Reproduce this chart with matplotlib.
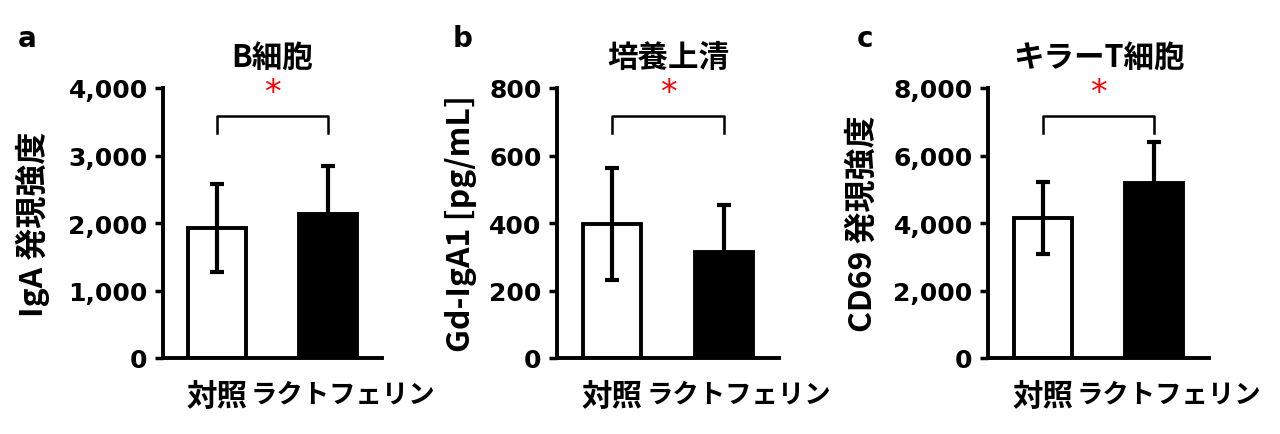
import matplotlib
matplotlib.use('Agg')
import matplotlib.pyplot as plt
import matplotlib.transforms as mtransforms
from matplotlib.ticker import FuncFormatter, MultipleLocator

# data
groups = ['対照', 'ラクトフェリン']
panel_letters = ['a', 'b', 'c']
titles = ['B細胞', '培養上清', 'キラーT細胞']
ylabels = ['IgA 発現強度', 'Gd-IgA1 [pg/mL]', 'CD69 発現強度']
ymax = [4000, 800, 8000]
ystep = [1000, 200, 2000]

bcell_mean = [1930, 2130]
bcell_err = [650, 710]
supernatant_mean = [397, 314]
supernatant_err = [167, 139]
killer_t_mean = [4150, 5185]
killer_t_err = [1070, 1215]

means = [bcell_mean, supernatant_mean, killer_t_mean]
errs = [bcell_err, supernatant_err, killer_t_err]

CJK = ['Noto Sans CJK JP', 'DejaVu Sans']
W, H = 1280, 435

fig = plt.figure(figsize=(W / 100, H / 100), dpi=100)

# axes boxes in pixels: left, width, ylabel centre x, panel letter x
layout = [(163, 219, 33, 18), (557, 222, 461, 453), (988, 221, 863, 857)]

for i, (left, width, ylab_x, letter_x) in enumerate(layout):
    ax = fig.add_axes([left / W, 76 / H, width / W, 270 / H])
    x = [0, 1]
    ax.bar(x, means[i], width=0.52, color=['white', 'black'], edgecolor='black',
           linewidth=2.8, zorder=2)
    ax.errorbar(x, means[i], yerr=errs[i], fmt='none', ecolor='black',
                elinewidth=3, capsize=5, capthick=3, zorder=3)

    ax.set_xlim(-0.49, 1.49)
    ax.set_ylim(0, ymax[i])
    ax.yaxis.set_major_locator(MultipleLocator(ystep[i]))
    ax.yaxis.set_major_formatter(FuncFormatter(lambda v, p: f'{int(v):,}'))

    for side in ['top', 'right']:
        ax.spines[side].set_visible(False)
    for side in ['left', 'bottom']:
        ax.spines[side].set_linewidth(2.8)

    ax.tick_params(axis='y', length=6, width=2.5, pad=5, labelsize=18)
    for lbl in ax.get_yticklabels():
        lbl.set_fontweight('bold')

    ax.set_xticks(x)
    ax.set_xticklabels(groups, family=CJK, fontweight='bold')
    ax.tick_params(axis='x', length=0, pad=16)
    xl = ax.get_xticklabels()
    xl[0].set_fontsize(22)
    xl[1].set_fontsize(19)
    xl[1].set_transform(xl[1].get_transform() +
                        mtransforms.ScaledTranslation(0.15, 0, fig.dpi_scale_trans))

    # significance bracket between the two bars
    top = ymax[i] * 0.895
    leg = ymax[i] * 0.06
    ax.plot([0, 0, 1, 1], [top - leg, top, top, top - leg], color='black',
            linewidth=1.8, clip_on=False, zorder=4)
    ax.text(0.5, ymax[i] * 0.985, '*', color='red', fontsize=24, ha='center',
            va='center', clip_on=False)

    ax.set_title(titles[i], family=CJK, fontsize=22, fontweight='bold', pad=16)
    ax.set_ylabel(ylabels[i], family=CJK, fontsize=23, fontweight='bold', va='center')
    ax.yaxis.set_label_coords((ylab_x - left) / width, 0.5)

    fig.text(letter_x / W, 1 - 47 / H, panel_letters[i], fontsize=20,
             fontweight='bold', ha='left', va='baseline')

fig.savefig('out.png', dpi=100)
